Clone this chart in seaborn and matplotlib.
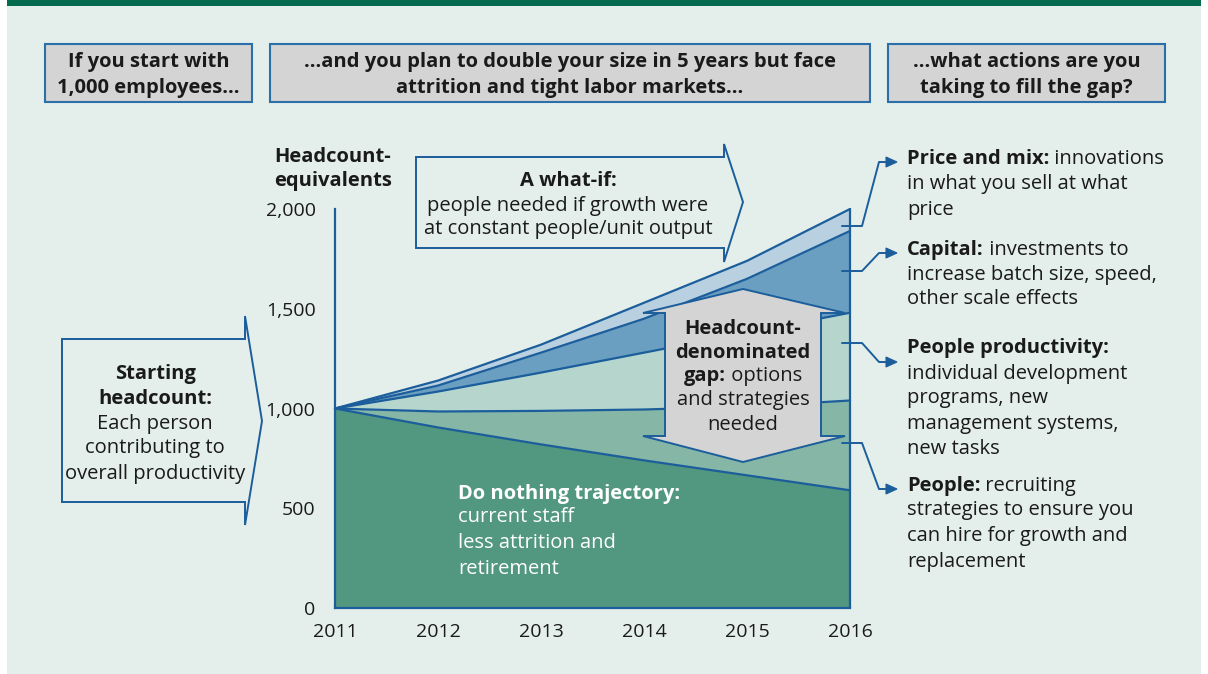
import matplotlib
matplotlib.use("Agg")
import matplotlib.pyplot as plt
import seaborn as sns
import pandas as pd
from matplotlib.patches import Polygon, Rectangle
from matplotlib.lines import Line2D

# ---------------- data ----------------
years = [2011, 2012, 2013, 2014, 2015, 2016]
do_nothing = [1000, 905, 820, 740, 665, 590]
people_top = [1000, 985, 988, 995, 1010, 1040]
productivity_top = [1000, 1085, 1180, 1280, 1380, 1480]
capital_top = [1000, 1115, 1280, 1450, 1650, 1890]
what_if = [1000, 1140, 1320, 1530, 1740, 2000]
y_ticks = [0, 500, 1000, 1500, 2000]
y_tick_labels = ["0", "500", "1,000", "1,500", "2,000"]

# ---------------- style ----------------
W, H = 1208, 674
BG = "#e4efeb"
BLUE = "#1b5e9b"
TXT = "#1a1a1a"
FONT = ["Open Sans", "DejaVu Sans"]
FS = 14.5
layer_colors = ["#52977f", "#86b6a6", "#b6d6cd", "#6a9fc2", "#b9d0e1"]

sns.set_theme(style="white")
plt.rcParams["font.family"] = FONT

fig = plt.figure(figsize=(W / 100, H / 100), dpi=100)
fig.patch.set_facecolor("white")


def P(x, y):
    return (x / W, 1 - y / H)


# panel background and top band
fig.add_artist(Rectangle(P(7, 674), (1201 - 7) / W, 674 / H, transform=fig.transFigure,
                         facecolor=BG, edgecolor="none", zorder=-5))
fig.add_artist(Rectangle(P(7, 6), (1201 - 7) / W, 6 / H, transform=fig.transFigure,
                         facecolor="#046b4e", edgecolor="none", zorder=-4))

# ---------------- axes ----------------
x0, x1, y0, y1 = 335, 850, 608, 209
ax = fig.add_axes([x0 / W, 1 - y0 / H, (x1 - x0) / W, (y0 - y1) / H])
ax.set_facecolor("none")

df = pd.DataFrame({"year": years, "do_nothing": do_nothing, "people": people_top,
                   "productivity": productivity_top, "capital": capital_top,
                   "what_if": what_if})
bounds = [[0] * len(years), do_nothing, people_top, productivity_top, capital_top, what_if]
for i in range(5):
    ax.fill_between(years, bounds[i], bounds[i + 1], color=layer_colors[i],
                    linewidth=0, zorder=1)
for col in ["do_nothing", "people", "productivity", "capital", "what_if"]:
    sns.lineplot(data=df, x="year", y=col, ax=ax, color=BLUE, linewidth=1.6,
                 zorder=3, clip_on=False, legend=False)
ax.plot([years[-1], years[-1]], [0, what_if[-1]], color=BLUE, lw=1.6, zorder=3,
        clip_on=False)
if ax.get_legend() is not None:
    ax.get_legend().remove()

ax.set_xlim(years[0], years[-1])
ax.set_ylim(0, 2000)
ax.set_xticks(years)
ax.set_xticklabels([str(y) for y in years])
ax.set_yticks(y_ticks)
ax.set_yticklabels(y_tick_labels)
ax.set_xlabel("")
ax.set_ylabel("")
for s in ["top", "right"]:
    ax.spines[s].set_visible(False)
for s in ["left", "bottom"]:
    ax.spines[s].set_color(BLUE)
    ax.spines[s].set_linewidth(1.6)
    ax.spines[s].set_zorder(4)
ax.tick_params(axis="both", direction="out", length=6, width=1.4, color=BLUE,
               labelsize=14, labelcolor=TXT, pad=4)
ax.tick_params(axis="y", pad=8)
ax.tick_params(axis="x", pad=5)

# ---------------- text helpers ----------------
renderer = fig.canvas.get_renderer()


def txt(x, y, s, ha="center", weight="normal", color=TXT, size=FS):
    return fig.text(x / W, 1 - (y + 6.5) / H, s, ha=ha, va="baseline", fontsize=size,
                    fontweight=weight, color=color, zorder=6)


def mixed(x, y, bold, regular, ha="left", color=TXT, size=FS):
    t1 = txt(x, y, bold, ha="left", weight="bold", color=color, size=size)
    t2 = txt(x, y, regular, ha="left", color=color, size=size)
    w1 = t1.get_window_extent(renderer).width
    w2 = t2.get_window_extent(renderer).width
    start = x - (w1 + w2) / 2 if ha == "center" else x
    t1.set_x(start / W)
    t2.set_x((start + w1) / W)


def poly(pts, fc="none", ec=BLUE, lw=1.4, z=5):
    fig.add_artist(Polygon([P(*p) for p in pts], closed=True, transform=fig.transFigure,
                           facecolor=fc, edgecolor=ec, linewidth=lw, zorder=z))


# ---------------- header boxes ----------------
boxes = [(45, 252, ["If you start with", "1,000 employees..."]),
         (270, 870, ["...and you plan to double your size in 5 years but face",
                     "attrition and tight labor markets..."]),
         (888, 1165, ["...what actions are you", "taking to fill the gap?"])]
for bl, br, lines in boxes:
    poly([(bl, 44), (br, 44), (br, 102), (bl, 102)], fc="#d4d4d4", ec="#2a6fa8", lw=1.5)
    for k, line in enumerate(lines):
        txt((bl + br) / 2, 61 + 25 * k, line, weight="bold")

# ---------------- y label ----------------
txt(333, 155, "Headcount-", weight="bold")
txt(333, 180, "equivalents", weight="bold")

# ---------------- what-if callout ----------------
poly([(416, 157), (724, 157), (724, 144), (743, 202), (724, 262), (724, 248), (416, 248)])
txt(568, 180, "A what-if:", weight="bold")
txt(568, 204, "people needed if growth were")
txt(568, 228, "at constant people/unit output")

# ---------------- starting headcount callout ----------------
poly([(62, 339), (245, 339), (245, 316), (262, 421), (245, 525), (245, 502), (62, 502)])
txt(155, 372, "Starting", weight="bold")
txt(155, 397, "headcount:", weight="bold")
txt(155, 422, "Each person")
txt(155, 447, "contributing to")
txt(155, 472, "overall productivity")

# ---------------- gap double arrow ----------------
poly([(743, 289), (845, 313), (821, 313), (821, 436), (845, 436), (743, 462),
      (643, 436), (665, 436), (665, 313), (643, 313)], fc="#d4d4d4", ec=BLUE, lw=1.4)
txt(743, 327, "Headcount-", weight="bold")
txt(743, 351, "denominated", weight="bold")
mixed(743, 375, "gap:", " options", ha="center")
txt(743, 399, "and strategies")
txt(743, 424, "needed")

# ---------------- do nothing text ----------------
txt(458, 492, "Do nothing trajectory:", ha="left", weight="bold", color="white")
txt(458, 516, "current staff", ha="left", color="white")
txt(458, 542, "less attrition and", ha="left", color="white")
txt(458, 567, "retirement", ha="left", color="white")

# ---------------- leader lines to the right ----------------
leaders = [(226, 162), (271, 253), (343, 362), (443, 489)]
for ys, ye in leaders:
    fig.add_artist(Line2D([842 / W, 862 / W, 879 / W, 887 / W],
                          [1 - ys / H, 1 - ys / H, 1 - ye / H, 1 - ye / H],
                          transform=fig.transFigure, color=BLUE, lw=1.4, zorder=5))
    poly([(886, ye - 5), (897, ye), (886, ye + 5)], fc=BLUE, ec=BLUE, lw=0.8)

# ---------------- right-side texts ----------------
RX = 907
mixed(RX, 158, "Price and mix:", " innovations")
txt(RX, 183, "in what you sell at what", ha="left")
txt(RX, 208, "price", ha="left")

mixed(RX, 248, "Capital:", " investments to")
txt(RX, 273, "increase batch size, speed,", ha="left")
txt(RX, 298, "other scale effects", ha="left")

txt(RX, 347, "People productivity:", ha="left", weight="bold")
txt(RX, 372, "individual development", ha="left")
txt(RX, 397, "programs, new", ha="left")
txt(RX, 422, "management systems,", ha="left")
txt(RX, 447, "new tasks", ha="left")

mixed(RX, 484, "People:", " recruiting")
txt(RX, 509, "strategies to ensure you", ha="left")
txt(RX, 534, "can hire for growth and", ha="left")
txt(RX, 560, "replacement", ha="left")

fig.savefig("out.png", dpi=100, facecolor=fig.get_facecolor())
